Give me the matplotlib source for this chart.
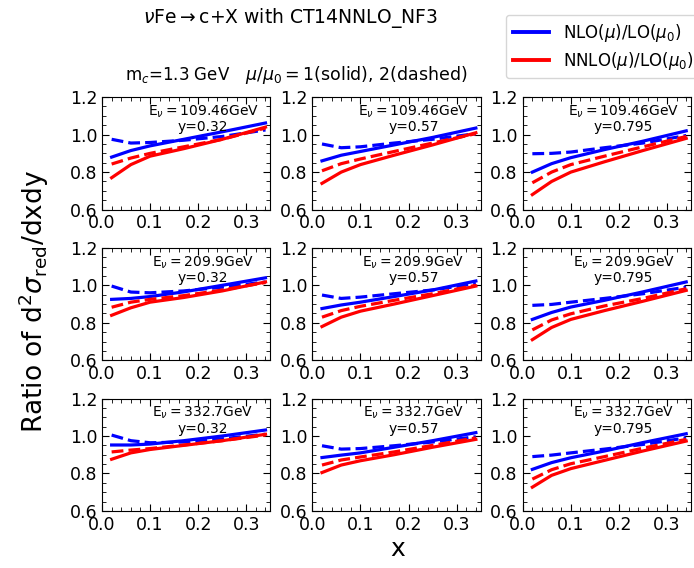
import matplotlib
matplotlib.use("Agg")
import matplotlib.pyplot as plt
from matplotlib.ticker import AutoMinorLocator
from matplotlib.lines import Line2D

x = [0.02, 0.06, 0.1, 0.17, 0.25, 0.34]

energies = ["109.46", "209.9", "332.7"]
yvals = ["0.32", "0.57", "0.795"]

# each panel: NLO solid (mu=1), NLO dashed (mu=2), NNLO solid, NNLO dashed
nlo_mu1 = [
    [0.88, 0.915, 0.94, 0.975, 1.015, 1.062],
    [0.86, 0.89, 0.91, 0.945, 0.985, 1.035],
    [0.80, 0.845, 0.877, 0.92, 0.965, 1.02],
    [0.925, 0.93, 0.94, 0.965, 1.0, 1.04],
    [0.876, 0.895, 0.91, 0.94, 0.975, 1.023],
    [0.818, 0.855, 0.884, 0.92, 0.965, 1.018],
    [0.952, 0.952, 0.957, 0.975, 1.0, 1.032],
    [0.885, 0.898, 0.91, 0.94, 0.975, 1.018],
    [0.822, 0.858, 0.884, 0.92, 0.965, 1.012],
]
nlo_mu2 = [
    [0.975, 0.955, 0.958, 0.97, 0.99, 1.025],
    [0.95, 0.93, 0.935, 0.955, 0.975, 1.005],
    [0.898, 0.90, 0.907, 0.93, 0.955, 0.995],
    [0.996, 0.964, 0.96, 0.97, 0.99, 1.018],
    [0.948, 0.93, 0.937, 0.955, 0.975, 1.009],
    [0.893, 0.898, 0.91, 0.93, 0.955, 0.99],
    [1.005, 0.975, 0.964, 0.968, 0.985, 1.01],
    [0.948, 0.93, 0.933, 0.948, 0.968, 0.996],
    [0.89, 0.898, 0.91, 0.93, 0.955, 0.99],
]
nnlo_mu1 = [
    [0.77, 0.84, 0.885, 0.925, 0.975, 1.04],
    [0.74, 0.80, 0.84, 0.89, 0.945, 1.01],
    [0.68, 0.75, 0.80, 0.855, 0.915, 0.98],
    [0.84, 0.88, 0.91, 0.935, 0.97, 1.018],
    [0.78, 0.83, 0.862, 0.90, 0.945, 0.996],
    [0.71, 0.775, 0.818, 0.865, 0.915, 0.973],
    [0.876, 0.91, 0.928, 0.95, 0.975, 1.009],
    [0.805, 0.845, 0.868, 0.90, 0.94, 0.982],
    [0.727, 0.79, 0.826, 0.87, 0.92, 0.973],
]
nnlo_mu2 = [
    [0.843, 0.875, 0.90, 0.935, 0.975, 1.035],
    [0.807, 0.845, 0.87, 0.91, 0.955, 1.005],
    [0.743, 0.80, 0.84, 0.885, 0.935, 0.99],
    [0.883, 0.91, 0.925, 0.945, 0.975, 1.015],
    [0.83, 0.865, 0.888, 0.92, 0.955, 1.0],
    [0.762, 0.815, 0.848, 0.89, 0.93, 0.982],
    [0.915, 0.925, 0.933, 0.952, 0.975, 1.005],
    [0.845, 0.872, 0.888, 0.915, 0.95, 0.99],
    [0.77, 0.82, 0.852, 0.89, 0.935, 0.982],
]

fig = plt.figure(figsize=(6.94, 5.68), dpi=100)
axes = fig.subplots(3, 3)
fig.subplots_adjust(left=0.147, right=0.9957, top=0.829, bottom=0.1004,
                    wspace=0.25, hspace=0.34)

lw = 2.3
for i in range(3):
    for j in range(3):
        k = i * 3 + j
        ax = axes[i, j]
        ax.plot(x, nlo_mu1[k], color="blue", lw=lw)
        ax.plot(x, nlo_mu2[k], color="blue", lw=lw, ls="--")
        ax.plot(x, nnlo_mu1[k], color="red", lw=lw)
        ax.plot(x, nnlo_mu2[k], color="red", lw=lw, ls="--")
        ax.set_xlim(0.0, 0.35)
        ax.set_ylim(0.6, 1.2)
        ax.set_xticks([0.0, 0.1, 0.2, 0.3])
        ax.set_yticks([0.6, 0.8, 1.0, 1.2])
        ax.xaxis.set_minor_locator(AutoMinorLocator(5))
        ax.yaxis.set_minor_locator(AutoMinorLocator(4))
        ax.tick_params(which="both", direction="in", top=True, right=True,
                       labelsize=12.5)
        ax.tick_params(which="major", length=5)
        ax.tick_params(which="minor", length=3)
        ax.text(0.60, 0.87, r"E$_\nu=$" + energies[i] + "GeV",
                transform=ax.transAxes, ha="center", va="center", fontsize=10)
        ax.text(0.60, 0.73, "y=" + yvals[j],
                transform=ax.transAxes, ha="center", va="center", fontsize=10)

fig.text(290 / 694, 1 - 18 / 568, r"$\nu$Fe$\rightarrow$c+X with CT14NNLO_NF3",
         ha="center", va="center", fontsize=13.5)
fig.text(125 / 694, 1 - 75 / 568, r"m$_c$=1.3 GeV", ha="left", va="center",
         fontsize=12)
fig.text(245 / 694, 1 - 75 / 568, r"$\mu/\mu_0=$1(solid), 2(dashed)",
         ha="left", va="center", fontsize=12.5)

handles = [Line2D([], [], color="blue", lw=2.8),
           Line2D([], [], color="red", lw=2.8)]
fig.legend(handles, [r"NLO($\mu$)/LO($\mu_0$)", r"NNLO($\mu$)/LO($\mu_0$)"],
           loc="upper left", bbox_to_anchor=(506 / 694, 1 - 15 / 568),
           borderaxespad=0, fontsize=12, frameon=True, handlelength=2.2,
           labelspacing=0.35)

fig.text(0.048, 0.47, r"Ratio of d$^2\sigma_{\rm red}$/dxdy", rotation=90,
         ha="center", va="center", fontsize=19)
fig.text(398 / 694, 1 - 549 / 568, "x", ha="center", va="center", fontsize=18)

fig.savefig("out.png", dpi=100)
